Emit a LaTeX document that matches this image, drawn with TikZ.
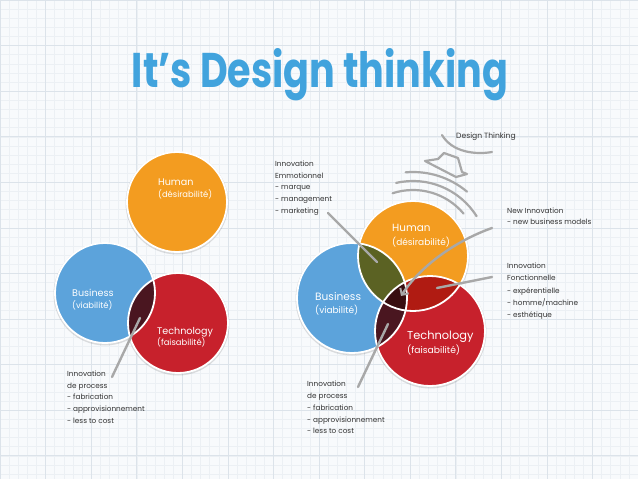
\documentclass[tikz,border=0pt]{standalone}
\usepackage{fontspec}
\setmainfont{Poppins}
\newfontfamily\titlefont{Poppins}
\usetikzlibrary{arrows.meta}
\definecolor{bgc}{HTML}{F8FAFC}
\definecolor{gridminor}{HTML}{ECF0F4}
\definecolor{gridmajor}{HTML}{DCE3EA}
\definecolor{humanc}{HTML}{F39C20}
\definecolor{busc}{HTML}{5CA3DB}
\definecolor{techc}{HTML}{C7212C}
\definecolor{hbc}{HTML}{5B6223}
\definecolor{htc}{HTML}{B01B12}
\definecolor{btc}{HTML}{4A1620}
\definecolor{hbtc}{HTML}{380E10}
\definecolor{linec}{HTML}{A8A8A8}
\definecolor{titlec}{HTML}{41A3DD}
\definecolor{txtc}{HTML}{333333}
\tikzset{
  ringline/.style={draw=white, line width=1.8pt},
  shadowc/.style={fill=black, opacity=0.12},
  bigl/.style={text=white, anchor=west, inner sep=0pt, align=left},
  annot/.style={text=txtc, anchor=north west, inner sep=0pt, align=left, font=\fontsize{7.3}{11.6}\selectfont},
  conn/.style={draw=linec, line width=2.4pt, line cap=round},
  deco/.style={draw=linec, line width=2.2pt, line cap=round, line join=round}
}
\begin{document}
\begin{tikzpicture}[x=1pt,y=-1pt]
\useasboundingbox (0,0) rectangle (638,479);
\fill[bgc] (0,0) rectangle (638,479);
\foreach \i in {0,...,70} { \draw[gridminor, line width=0.4pt] ({\i*9.114},0) -- ({\i*9.114},479); }
\foreach \j in {0,...,53} { \draw[gridminor, line width=0.4pt] (0,{\j*9.114}) -- (638,{\j*9.114}); }
\foreach \i in {0,...,14} { \draw[gridmajor, line width=0.5pt] ({\i*45.57},0) -- ({\i*45.57},479); }
\foreach \j in {0,...,10} { \draw[gridmajor, line width=0.5pt] (0,{\j*45.57}) -- (638,{\j*45.57}); }

% title
\node[text=titlec, anchor=base, inner sep=0pt] (title) at (320,87)
  {\resizebox{376pt}{39pt}{\titlefont\bfseries It’s Design thinking}};

% ---------- left diagram ----------
\coordinate (LH) at (177,202);
\coordinate (LB) at (105,293);
\coordinate (LT) at (178,323);
\foreach \c in {LH,LB,LT} { \fill[shadowc] ([yshift=-1pt]\c) circle[radius=51.5]; }
\fill[humanc] (LH) circle[radius=50];
\fill[busc] (LB) circle[radius=50];
\fill[techc] (LT) circle[radius=50];
\begin{scope}
  \clip (LB) circle[radius=50];
  \fill[btc] (LT) circle[radius=50];
\end{scope}
\foreach \c in {LH,LB,LT} { \draw[ringline] (\c) circle[radius=50]; }

\node[bigl, font=\fontsize{9.6}{12}\selectfont] (lhl) at (158,189) {Human\\[-0.5pt]{\fontsize{8.4}{12}\selectfont (désirabilité)}};
\node[bigl, font=\fontsize{9.6}{13}\selectfont] (lbl) at (72,299.5) {Business\\[-0.5pt]{\fontsize{8.4}{12}\selectfont (viabilité)}};
\node[bigl, font=\fontsize{9.6}{12}\selectfont] (ltl) at (157,337) {Technology\\[-0.5pt]{\fontsize{8.4}{12}\selectfont (faisabilité)}};

\node[annot] (lproc) at (67,371) {Innovation\\de process\\- fabrication\\- approvisionnement\\- less to cost};
\coordinate (lpa) at (112,377);
\coordinate (lpb) at (140,318);
\draw[conn] (lpa) -- (lpb);

% ---------- right diagram ----------
\coordinate (RH) at (413,256);
\coordinate (RB) at (352,298);
\coordinate (RT) at (430,331);
\foreach \c in {RH,RB,RT} { \fill[shadowc] ([yshift=-1pt]\c) circle[radius=56.5]; }
\fill[humanc] (RH) circle[radius=55];
\fill[busc] (RB) circle[radius=55];
\fill[techc] (RT) circle[radius=55];
\begin{scope}
  \clip (RH) circle[radius=55];
  \fill[hbc] (RB) circle[radius=55];
\end{scope}
\begin{scope}
  \clip (RH) circle[radius=55];
  \fill[htc] (RT) circle[radius=55];
\end{scope}
\begin{scope}
  \clip (RB) circle[radius=55];
  \fill[btc] (RT) circle[radius=55];
\end{scope}
\begin{scope}
  \clip (RH) circle[radius=55];
  \clip (RB) circle[radius=55];
  \fill[hbtc] (RT) circle[radius=55];
\end{scope}
\foreach \c in {RH,RB,RT} { \draw[ringline] (\c) circle[radius=55]; }

\node[bigl, font=\fontsize{10.4}{15}\selectfont] (rhl) at (392,235.5) {Human\\[-1pt]{\fontsize{9}{12}\selectfont (désirabilité)}};
\node[bigl, font=\fontsize{10.6}{14}\selectfont] (rbl) at (315,303.5) {Business\\[-1pt]{\fontsize{9}{12}\selectfont (viabilité)}};
\node[bigl, font=\fontsize{11.4}{15}\selectfont] (rtl) at (407,343) {Technology\\[-1pt]{\fontsize{9.2}{12}\selectfont (faisabilité)}};

% annotations
\node[annot] (remo) at (275,161) {Innovation\\Emmotionnel\\- marque\\- management\\- marketing};
\node[annot, font=\fontsize{7.3}{11.2}\selectfont] (rnew) at (507,208) {New Innovation\\- new business models};
\node[annot, font=\fontsize{7.3}{12.2}\selectfont] (rfon) at (507,263) {Innovation\\Fonctionnelle\\- expérentielle\\- homme/machine\\- esthétique};
\node[annot, font=\fontsize{7.3}{11.8}\selectfont] (rproc) at (307,381) {Innovation\\de process\\- fabrication\\- approvisionnement\\- less to cost};
\node[annot, font=\fontsize{7.6}{10}\selectfont] (dt) at (456,133) {Design Thinking};

% connectors
\coordinate (emoa) at (328,213);
\coordinate (emob) at (377,262);
\draw[conn] (emoa) -- (emob);
\coordinate (newa) at (492,228);
\coordinate (newb) at (401,296);
\draw[conn, -{Straight Barb[length=5pt,width=10pt,line width=2pt]}] (newa) .. controls (458,240) and (422,264) .. (newb);
\coordinate (fona) at (492,277);
\coordinate (fonb) at (437,288);
\draw[conn] (fona) -- (fonb);
\coordinate (proa) at (358,387);
\coordinate (prob) at (388,324);
\draw[conn] (proa) -- (prob);

% design thinking decorations
\draw[deco] (442,135) .. controls (452,152) and (475,155) .. (492,152);
\draw[deco] (425,161) -- (438,159) -- (444,153) -- (458,158) -- (462,172) -- (467,174) -- (456,177) -- cycle;
\draw[deco] (RH) ++(-95:84) arc[start angle=-95, end angle=-50, radius=84];
\draw[deco] (RH) ++(-103:75) arc[start angle=-103, end angle=-32, radius=75];
\draw[deco] (RH) ++(-108:66) arc[start angle=-108, end angle=-40, radius=66];
\end{tikzpicture}
\end{document}
